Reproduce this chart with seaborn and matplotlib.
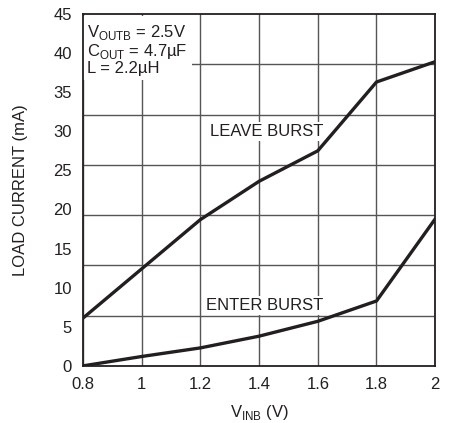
import numpy as np
import pandas as pd
import matplotlib.pyplot as plt
import seaborn as sns

# data
v_inb = [0.8, 1.0, 1.2, 1.4, 1.6, 1.8, 2.0]
leave_burst = [6.1, 12.4, 18.7, 23.6, 27.5, 36.3, 38.9]
enter_burst = [0.0, 1.2, 2.3, 3.8, 5.7, 8.3, 18.8]
y_ticks = [0, 5, 10, 15, 20, 25, 30, 35, 40, 45]
x_ticks = [0.8, 1, 1.2, 1.4, 1.6, 1.8, 2]

df = pd.DataFrame({
    "VINB": v_inb * 2,
    "LOAD": leave_burst + enter_burst,
    "CURVE": ["LEAVE BURST"] * len(v_inb) + ["ENTER BURST"] * len(v_inb),
})

sns.set_style("white")
plt.rcParams['font.family'] = ['Liberation Sans Narrow', 'Liberation Sans', 'DejaVu Sans']

fig = plt.figure(figsize=(4.63, 4.23), dpi=100)
ax = fig.add_axes([0.179, 0.135, 0.761, 0.832])

line_col = "#231f20"
sns.lineplot(ax=ax, data=df, x="VINB", y="LOAD", hue="CURVE",
             palette=[line_col, line_col], linewidth=2.4, legend=False, zorder=3)

ax.set_xlim(0.8, 2.0)
ax.set_ylim(0, 45)
ax.set_xticks(x_ticks)
ax.set_xticklabels(["0.8", "1", "1.2", "1.4", "1.6", "1.8", "2"])
ax.set_yticks(y_ticks)
# the grid uses 7 divisions in y, not the label spacing
ax.set_yticks([45 * k / 7 for k in range(1, 7)], minor=True)
ax.grid(False)
ax.grid(True, which="major", axis="x", color="#555555", linewidth=1.0, zorder=1)
ax.grid(True, which="minor", axis="y", color="#555555", linewidth=1.0, zorder=1)
ax.tick_params(which="both", length=0, labelsize=12, colors="#231f20")
ax.tick_params(axis="x", pad=8)
ax.tick_params(axis="y", pad=8)
for s in ax.spines.values():
    s.set_color(line_col)
    s.set_linewidth(1.3)
    s.set_zorder(4)

ax.set_xlabel("V$_{\\mathregular{INB}}$ (V)", fontsize=12, color="#231f20", labelpad=8)
ax.set_ylabel("LOAD CURRENT (mA)", fontsize=12, color="#231f20", labelpad=18)

box = dict(facecolor="white", edgecolor="none", pad=1.5)
ax.text(0.815, 43.9, "V$_{\\mathregular{OUTB}}$ = 2.5V\nC$_{\\mathregular{OUT}}$ = 4.7µF\nL = 2.2µH",
        fontsize=12, va="top", ha="left", color="#231f20", linespacing=1.0,
        bbox=dict(facecolor="white", edgecolor="none", pad=3), zorder=2)
ax.text(1.425, 30.0, "LEAVE BURST", fontsize=12, va="center", ha="center",
        color="#231f20", bbox=box, zorder=2)
ax.text(1.42, 7.7, "ENTER BURST", fontsize=12, va="center", ha="center",
        color="#231f20", bbox=box, zorder=2)

plt.savefig("out.png", dpi=100)
